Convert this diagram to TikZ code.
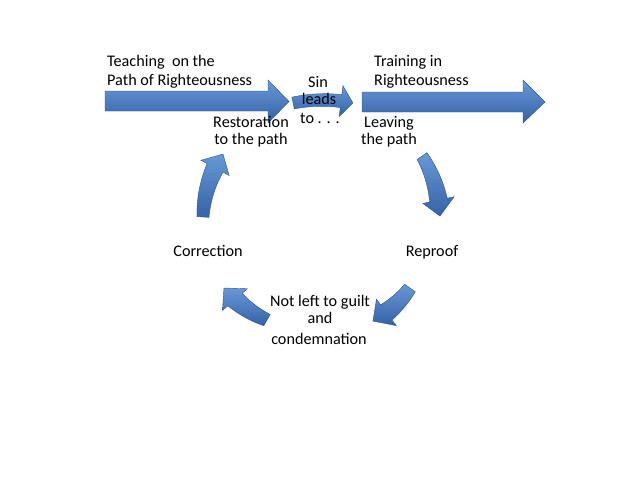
\documentclass[tikz,border=0pt]{standalone}
\usepackage{fontspec}
\setmainfont{Carlito}
\definecolor{blueTop}{RGB}{105,152,215}
\definecolor{blueMid}{RGB}{72,124,190}
\definecolor{blueBot}{RGB}{52,98,166}
\tikzset{
  arrowshade/.style={top color=blueTop, middle color=blueMid, bottom color=blueBot, draw=blueBot!85!black, line width=0.4pt},
  lbl/.style={inner sep=0pt, font=\fontsize{16.2}{18}\selectfont, text=black},
  declare function={
    crad(\t)=\cra+(\crb-\cra)*(\t-\caa)/(\cab-\caa);
    cwid(\t)=\cwa+(\cwb-\cwa)*(\t-\caa)/(\chb-\caa);
  }
}
\def\chl{15}
% curved block arrow: cx cy a1 a2 r1 r2 w1 w2 headwidth
\newcommand\carrow[9]{%
  \def\ccx{#1}\def\ccy{#2}\def\caa{#3}\def\cab{#4}%
  \def\cra{#5}\def\crb{#6}\def\cwa{#7}\def\cwb{#8}\def\chw{#9}%
  \pgfmathsetmacro\chb{\cab-(\chl/\crb)*57.2958*sign(\cab-\caa)}%
  \shade[arrowshade]
    plot[domain=\caa:\chb,samples=30,variable=\t]
      ({\ccx+(crad(\t)+cwid(\t)/2)*cos(\t)},{\ccy+(crad(\t)+cwid(\t)/2)*sin(\t)})
    -- ({\ccx+(crad(\chb)+\chw/2)*cos(\chb)},{\ccy+(crad(\chb)+\chw/2)*sin(\chb)})
    -- ({\ccx+\crb*cos(\cab)},{\ccy+\crb*sin(\cab)})
    -- ({\ccx+(crad(\chb)-\chw/2)*cos(\chb)},{\ccy+(crad(\chb)-\chw/2)*sin(\chb)})
    -- plot[domain=\chb:\caa,samples=30,variable=\t]
      ({\ccx+(crad(\t)-cwid(\t)/2)*cos(\t)},{\ccy+(crad(\t)-cwid(\t)/2)*sin(\t)})
    -- cycle;
}
\begin{document}
\begin{tikzpicture}[x=1pt,y=-1pt]
\useasboundingbox (0,0) rectangle (640,480);
\fill[white] (0,0) rectangle (640,480);

% straight arrows
\shade[arrowshade] (105,91) -- (268,91) -- (268,80) -- (289,101.5) -- (268,123) -- (268,111) -- (105,111) -- cycle;
\shade[arrowshade] (362,92) -- (523,92) -- (523,80) -- (545,102) -- (523,123) -- (523,112) -- (362,112) -- cycle;

% small "sin leads to" arrow
\def\chl{12}
\carrow{323}{250}{-101.5}{-78.5}{150}{150}{12}{13}{31}

% cycle arrows
\def\chl{16}
\carrow{321}{225}{-34.3}{-4.3}{122.3}{119.3}{12}{18}{32}
\carrow{321}{225}{35.3}{61.6}{109}{109.2}{13}{19}{33}
\carrow{321}{225}{119.6}{147.0}{109.3}{115.7}{13}{19}{33}
\carrow{321}{225}{183.9}{215.9}{118.3}{121.0}{12}{18}{32}

% labels
\node[lbl, anchor=base west] (t1) at (107,66) {Teaching\ \ on the};
\node[lbl, anchor=base west] (t2) at (107,85) {Path of Righteousness};
\node[lbl, anchor=base west] (r1) at (374,66) {Training in};
\node[lbl, anchor=base west] (r2) at (374,85) {Righteousness};
\node[lbl, anchor=base] (s1) at (318,87) {Sin};
\node[lbl, anchor=base] (s2) at (319,104) {leads};
\node[lbl, anchor=base] (s3) at (320,123) {to . . .};
\node[lbl, anchor=base] (re1) at (251,127) {Restoration};
\node[lbl, anchor=base] (re2) at (251,144) {to the path};
\node[lbl, anchor=base] (lv1) at (389,127) {Leaving};
\node[lbl, anchor=base] (lv2) at (389,144) {the path};
\node[lbl, anchor=base] (co) at (208,256) {Correction};
\node[lbl, anchor=base] (rp) at (432,256) {Reproof};
\node[lbl, anchor=base] (n1) at (320,306) {Not left to guilt};
\node[lbl, anchor=base] (n2) at (320,323) {and};
\node[lbl, anchor=base] (n3) at (319,344) {condemnation};
\end{tikzpicture}
\end{document}
